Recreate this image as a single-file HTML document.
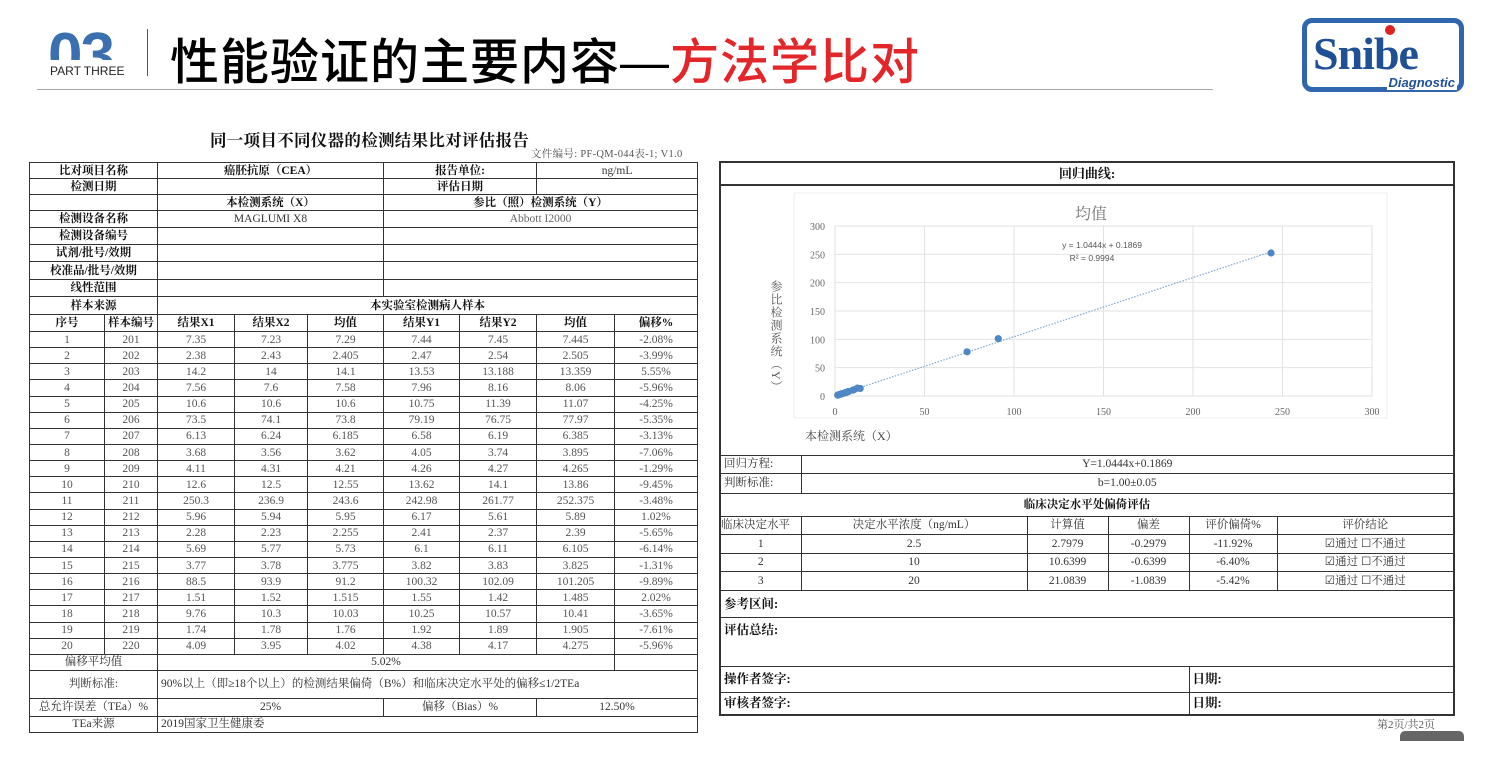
<!DOCTYPE html>
<html><head><meta charset="utf-8"><style>
body{margin:0;width:1494px;height:784px;background:#fff;position:relative;overflow:hidden;font-family:"Liberation Serif","Noto Serif CJK SC",serif;}
.abs{position:absolute}
table{border-collapse:collapse;table-layout:fixed;position:absolute}
td{border:1px solid #333;padding:0;text-align:center;font-size:11.5px;line-height:12px;overflow:hidden;white-space:nowrap;color:#333}
#lt td{border-width:1.4px}
.b{font-weight:bold;color:#111}
.l{text-align:left;padding-left:3px}
#rt{border:2px solid #333}
</style></head><body>
<div class="abs" style="left:48px;top:8px;width:90px;height:52px;overflow:hidden"><div style="font:bold 62px 'Liberation Sans',sans-serif;color:#3a6fb0;margin-top:12px;letter-spacing:-2px">03</div></div>
<div class="abs" style="left:50px;top:64px;font:12px 'Liberation Sans',sans-serif;color:#222">PART THREE</div>
<div class="abs" style="left:147px;top:29px;width:1px;height:47px;background:#555"></div>
<div class="abs" style="left:170px;top:23px;font:500 49px 'Liberation Sans','Noto Sans CJK SC',sans-serif;color:#000;letter-spacing:1px">性能验证的主要内容—<span style="color:#e3262a">方法学比对</span></div>
<div class="abs" style="left:37px;top:89px;width:1176px;height:1px;background:#aaa"></div>
<div class="abs" style="left:1302px;top:18px;width:162px;height:74px;border:5px solid #2f66ae;border-radius:10px;box-sizing:border-box">
<div style="position:absolute;left:6px;top:4px;font:bold 46px 'Liberation Serif',serif;color:#1f4f95;letter-spacing:-1px">Snibe</div>
<div style="position:absolute;left:78px;top:2px;width:10px;height:10px;border-radius:50%;background:#d22"></div>
<div style="position:absolute;right:2px;bottom:-3px;background:#fff;padding:0 2px;font:italic bold 13px 'Liberation Sans',sans-serif;color:#1f4f95">Diagnostic</div></div>

<div class="abs b" style="left:210px;top:127px;font-size:16.5px;letter-spacing:0.3px">同一项目不同仪器的检测结果比对评估报告</div>
<div class="abs" style="left:531px;top:146px;font-size:10.5px;color:#555;letter-spacing:0.3px">文件编号: PF-QM-044表-1; V1.0</div>

<table id="lt" style="left:29px;top:162px;width:668px">
<colgroup><col style="width:75px"><col style="width:53px"><col style="width:77px"><col style="width:73px"><col style="width:76px"><col style="width:76px"><col style="width:77px"><col style="width:78px"><col style="width:83px"></colgroup>
<tbody id="ltb">
<tr style="height:16px"><td colspan="2" class="b">比对项目名称</td><td colspan="3" class="b">癌胚抗原（CEA）</td><td colspan="2" class="b">报告单位:</td><td colspan="2">ng/mL</td></tr>
<tr style="height:16px"><td colspan="2" class="b">检测日期</td><td colspan="3"></td><td colspan="2" class="b">评估日期</td><td colspan="2"></td></tr>
<tr style="height:16px"><td colspan="2"></td><td colspan="3" class="b">本检测系统（X）</td><td colspan="4" class="b">参比（照）检测系统（Y）</td></tr>
<tr style="height:17px"><td colspan="2" class="b">检测设备名称</td><td colspan="3">MAGLUMI X8</td><td colspan="4" style="color:#666">Abbott I2000</td></tr>
<tr style="height:17px"><td colspan="2" class="b">检测设备编号</td><td colspan="3"></td><td colspan="4"></td></tr>
<tr style="height:17px"><td colspan="2" class="b">试剂/批号/效期</td><td colspan="3"></td><td colspan="4"></td></tr>
<tr style="height:18px"><td colspan="2" class="b">校准品/批号/效期</td><td colspan="3"></td><td colspan="4"></td></tr>
<tr style="height:17px"><td colspan="2" class="b">线性范围</td><td colspan="3"></td><td colspan="4"></td></tr>
<tr style="height:18px"><td colspan="2" class="b">样本来源</td><td colspan="7" class="b">本实验室检测病人样本</td></tr>
<tr style="height:17px"><td class="b">序号</td><td class="b">样本编号</td><td class="b">结果X1</td><td class="b">结果X2</td><td class="b">均值</td><td class="b">结果Y1</td><td class="b">结果Y2</td><td class="b">均值</td><td class="b">偏移%</td></tr>
</tbody></table>

<table id="rt" style="left:719px;top:161px;width:734px">
<colgroup><col style="width:81px"><col style="width:226px"><col style="width:81px"><col style="width:81px"><col style="width:88px"><col style="width:177px"></colgroup>
<tr style="height:23px"><td colspan="6" class="b" style="font-size:13px;border-bottom-width:2px">回归曲线:</td></tr>
<tr style="height:270px"><td colspan="6"></td></tr>
<tr style="height:18px"><td class="l">回归方程:</td><td colspan="5">Y=1.0444x+0.1869</td></tr>
<tr style="height:20px"><td class="l">判断标准:</td><td colspan="5">b=1.00±0.05</td></tr>
<tr style="height:23px"><td colspan="6" class="b">临床决定水平处偏倚评估</td></tr>
<tr style="height:18px"><td style="text-align:left">临床决定水平</td><td>决定水平浓度（ng/mL）</td><td>计算值</td><td>偏差</td><td>评价偏倚%</td><td>评价结论</td></tr>
<tr style="height:19px"><td>1</td><td>2.5</td><td>2.7979</td><td>-0.2979</td><td>-11.92%</td><td>☑通过 ☐不通过</td></tr>
<tr style="height:18px"><td>2</td><td>10</td><td>10.6399</td><td>-0.6399</td><td>-6.40%</td><td>☑通过 ☐不通过</td></tr>
<tr style="height:19px"><td>3</td><td>20</td><td>21.0839</td><td>-1.0839</td><td>-5.42%</td><td>☑通过 ☐不通过</td></tr>
<tr style="height:27px"><td colspan="6" class="l b" style="font-size:12.5px">参考区间:</td></tr>
<tr style="height:49px"><td colspan="6" class="l b" style="font-size:12.5px;vertical-align:top;padding-top:6px">评估总结:</td></tr>
<tr style="height:26px"><td colspan="4" class="l b" style="font-size:12.5px">操作者签字:</td><td colspan="2" class="l b" style="font-size:12.5px">日期:</td></tr>
<tr style="height:23px"><td colspan="4" class="l b" style="font-size:12.5px">审核者签字:</td><td colspan="2" class="l b" style="font-size:12.5px">日期:</td></tr>
</table>
<div class="abs" style="left:1377px;top:716px;font-size:11px;color:#555">第2页/共2页</div>
<div class="abs" style="left:1400px;top:731px;width:64px;height:10px;background:#666;border-radius:5px 5px 0 0"></div>

<svg id="chart" class="abs" style="left:0;top:0" width="1494" height="784"></svg>

<script>
const sampleNo=[1,2,3,4,5,6,7,8,9,10,11,12,13,14,15,16,17,18,19,20];
const sampleId=[201,202,203,204,205,206,207,208,209,210,211,212,213,214,215,216,217,218,219,220];
const x1=["7.35","2.38","14.2","7.56","10.6","73.5","6.13","3.68","4.11","12.6","250.3","5.96","2.28","5.69","3.77","88.5","1.51","9.76","1.74","4.09"];
const x2=["7.23","2.43","14","7.6","10.6","74.1","6.24","3.56","4.31","12.5","236.9","5.94","2.23","5.77","3.78","93.9","1.52","10.3","1.78","3.95"];
const xMean=[7.29,2.405,14.1,7.58,10.6,73.8,6.185,3.62,4.21,12.55,243.6,5.95,2.255,5.73,3.775,91.2,1.515,10.03,1.76,4.02];
const y1=["7.44","2.47","13.53","7.96","10.75","79.19","6.58","4.05","4.26","13.62","242.98","6.17","2.41","6.1","3.82","100.32","1.55","10.25","1.92","4.38"];
const y2=["7.45","2.54","13.188","8.16","11.39","76.75","6.19","3.74","4.27","14.1","261.77","5.61","2.37","6.11","3.83","102.09","1.42","10.57","1.89","4.17"];
const yMean=[7.445,2.505,13.359,8.06,11.07,77.97,6.385,3.895,4.265,13.86,252.375,5.89,2.39,6.105,3.825,101.205,1.485,10.41,1.905,4.275];
const bias=["-2.08%","-3.99%","5.55%","-5.96%","-4.25%","-5.35%","-3.13%","-7.06%","-1.29%","-9.45%","-3.48%","1.02%","-5.65%","-6.14%","-1.31%","-9.89%","2.02%","-3.65%","-7.61%","-5.96%"];
const xTicks=[0,50,100,150,200,250,300];
const yTicks=[0,50,100,150,200,250,300];
const slope=1.0444, intercept=0.1869;

const tb=document.getElementById('ltb');
for(let i=0;i<sampleNo.length;i++){
  const tr=document.createElement('tr');
  tr.style.height='16.15px';
  
  
  const vals=[sampleNo[i],sampleId[i],x1[i],x2[i],String(xMean[i]),y1[i],y2[i],String(yMean[i]),bias[i]];
  vals.forEach(v=>{const td=document.createElement('td');td.textContent=v;td.style.color='#555';tr.appendChild(td);});
  tb.appendChild(tr);
}
tb.insertAdjacentHTML('beforeend',
'<tr style="height:16px"><td colspan="2">偏移平均值</td><td colspan="6">5.02%</td><td></td></tr>'+
'<tr style="height:28px"><td colspan="2">判断标准:</td><td colspan="7" class="l">90%以上（即≥18个以上）的检测结果偏倚（B%）和临床决定水平处的偏移≤1/2TEa</td></tr>'+
'<tr style="height:18px"><td colspan="2">总允许误差（TEa）%</td><td colspan="3">25%</td><td colspan="2">偏移（Bias）%</td><td colspan="2">12.50%</td></tr>'+
'<tr style="height:16px"><td colspan="2">TEa来源</td><td colspan="7" class="l">2019国家卫生健康委</td></tr>');

const svg=document.getElementById('chart');
const NS='http://www.w3.org/2000/svg';
const X0=835,X1=1372,Y0=396,Y1=226;
const sx=v=>X0+(v-xTicks[0])/(xTicks[xTicks.length-1]-xTicks[0])*(X1-X0);
const sy=v=>Y0-(v-yTicks[0])/(yTicks[yTicks.length-1]-yTicks[0])*(Y0-Y1);
function mk(tag,attrs,text){const e=document.createElementNS(NS,tag);for(const k in attrs)e.setAttribute(k,attrs[k]);if(text!==undefined)e.textContent=text;svg.appendChild(e);return e;}
const frame=mk('rect',{x:794,y:193,width:593,height:225,fill:'none',stroke:'#eee'});


xTicks.forEach(t=>{
  const g=mk('line',{x1:sx(t),x2:sx(t),y1:Y1,y2:Y0,stroke:'#e2e2e2'});
  
  
  const l=mk('text',{x:sx(t),y:Y0+19,'font-size':10,fill:'#666','text-anchor':'middle'},t);
  
  
});
yTicks.forEach(t=>{
  const g=mk('line',{x1:X0,x2:X1,y1:sy(t),y2:sy(t),stroke:'#e2e2e2'});
  
  
  const l=mk('text',{x:X0-10,y:sy(t)+4,'font-size':10,fill:'#666','text-anchor':'end'},t);
  
  
});
const tl=mk('line',{x1:sx(0),y1:sy(intercept),x2:sx(245),y2:sy(slope*245+intercept),stroke:'#7ea6cf','stroke-width':1.2,'stroke-dasharray':'1.5 1.5'});


for(let i=0;i<xMean.length;i++){
  const c=mk('circle',{cx:sx(xMean[i]),cy:sy(yMean[i]),r:3.6,fill:'#4f86c6'});
  
  
}
const ct=mk('text',{x:1091,y:219,'font-size':16,fill:'#777','text-anchor':'middle'},'均值');


const eq=mk('text',{x:1102,y:248,'font-size':8.5,fill:'#555','text-anchor':'middle','font-family':'Liberation Sans'},'y = 1.0444x + 0.1869');


const r2=mk('text',{x:1092,y:261,'font-size':8.5,fill:'#555','text-anchor':'middle','font-family':'Liberation Sans'},'R² = 0.9994');


const yl=mk('text',{x:776,y:280,'font-size':12,fill:'#555','writing-mode':'tb','letter-spacing':1},'参比检测系统（Y）');


const xl=mk('text',{x:805,y:440,'font-size':12,fill:'#444'},'本检测系统（X）');


</script>
</body></html>
